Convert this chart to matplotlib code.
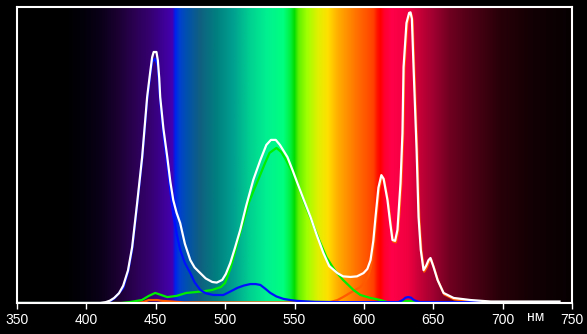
import numpy as np
import matplotlib
matplotlib.use('Agg')
import matplotlib.pyplot as plt
from matplotlib.colors import to_rgb

# ---- data (wavelength nm, relative intensity %) ----
wl_white = [350, 405, 410, 414, 417, 420, 423.5, 426.5, 430, 433, 436.6, 440.2, 443.8, 446, 447.4,
            448.5, 450.5, 451.5, 452.5, 453.2, 455.5, 458.3, 460.5, 462.6, 465, 467.6, 471,
            474.9, 478, 482.1, 486, 490.7, 494, 497.9, 500.5, 503.7, 507, 510.9, 515, 520.3,
            525.4, 529.7, 533, 536.5, 539.5, 544.9, 548.5, 552.1, 557, 561.5, 566, 570.8, 575,
            580.9, 585, 590.3, 595, 599.7, 602.5, 604.8, 606.8, 608.4, 610.5, 612.6, 614.2,
            617.0, 619, 620.6, 622.5, 624.2, 626.4, 627.8, 628.6, 630.7, 632.6, 633.6, 634.6,
            635.8, 638.0, 639.4, 641, 643.0, 644.8, 646.6, 648.0, 650.2, 653.1, 657.4, 664.7,
            676.9, 691.4, 741]
val_white = [0, 0, 0, 0.3, 0.8, 1.7, 3.3, 5.8, 11.0, 18.9, 33.8, 49.3, 69.6, 78.0, 83.0,
             84.8, 84.8, 82.0, 76.0, 69.6, 59.0, 49.3, 41.0, 34.8, 30.5, 27.0, 20.0,
             14.5, 12.0, 10.1, 8.3, 7.1, 6.9, 7.8, 9.8, 13.5, 18.5, 24.7, 32.5, 41.6,
             48.3, 53.4, 55.1, 55.1, 53.4, 49.3, 45.0, 40.5, 34.5, 29.1, 23.0, 16.9, 12.5,
             10.1, 9.0, 8.8, 9.0, 10.1, 11.5, 14.5, 21.0, 29.1, 39.0, 43.2, 42.0,
             34.8, 27.0, 21.3, 21.0, 24.7, 40.5, 57.4, 79.7, 94.6, 98.0, 98.2, 96.0,
             79.7, 51.7, 29.1, 18.0, 11.1, 12.5, 14.5, 15.2, 12.2, 7.8, 3.4, 1.7,
             1.0, 0.5, 0.5]

wl_blue = [350, 415, 420, 426.5, 430, 433, 436.6, 440.2, 443.8, 446, 447.4, 449.6, 451.5, 453.2,
           455.5, 458.3, 460.5, 462.6, 465, 467.6, 471, 474.9, 478, 482.1, 486, 491.5, 498.7,
           503, 508.8, 513.5, 518.2, 522, 525.4, 529, 532.6, 537, 542, 547, 552, 565, 580,
           625, 628, 630, 632, 634, 636, 640, 700]
val_blue = [0, 0, 1.5, 5.0, 10.5, 18.0, 33.0, 48.5, 68.5, 77.0, 81.5, 82.5, 80.0, 68.5,
            57.0, 47.0, 38.0, 30.0, 23.5, 17.9, 13.5, 10.1, 7.0, 4.4, 3.3, 2.7, 2.7,
            3.7, 5.1, 5.9, 6.4, 6.4, 6.1, 4.8, 3.4, 2.2, 1.4, 1.0, 0.7, 0.4, 0.3,
            0.3, 1.0, 1.8, 2.0, 1.8, 1.0, 0.3, 0.3]

wl_green = [350, 425, 431, 440, 445, 449.6, 454, 458.3, 465, 472, 479, 485, 490.7, 497, 500,
            504, 507, 510, 513.5, 517, 521, 524.7, 528.5, 532, 537, 540.5, 544, 548, 552.1,
            557, 563, 568, 573, 577, 580, 585, 592.5, 597.5, 604.8, 612, 617, 625, 628, 632,
            636, 640, 700]
val_green = [0, 0, 0.3, 1.0, 2.4, 3.4, 2.7, 2.0, 2.4, 3.4, 3.7, 4.0, 4.4, 5.4, 6.8,
             12.0, 17.0, 22.3, 28.0, 33.8, 38.5, 42.6, 47.0, 50.7, 52.4, 51.0, 48.3, 44.5, 40.5,
             34.0, 27.0, 21.0, 15.5, 12.5, 10.5, 7.8, 4.4, 2.7, 1.7, 1.0, 0.3, 0.3, 0.5, 0.7,
             0.5, 0.3, 0.3]

wl_red = [350, 435, 441, 445, 451, 455, 462, 470, 575, 581, 585, 590, 594, 597.5, 600.5, 603,
          605, 607.3, 608.9, 611.0, 613.1, 614.7, 617.5, 619.5, 621.1, 623, 624.7, 626.9, 628.3,
          629.1, 631.2, 633.1, 634.1, 635.1, 636.3, 638.5, 639.9, 641.5, 643.5, 645.3, 647.1,
          648.5, 650.7, 653.6, 657.9, 665.2, 677.4, 691.9, 700]
val_red = [0, 0, 0.3, 1.0, 1.0, 0.7, 0.5, 0.2, 0.2, 1.0, 2.0, 3.4, 4.5, 5.4, 7.0, 8.8,
           12.0, 20.5, 28.5, 38.5, 42.7, 41.5, 34.3, 26.5, 20.8, 20.5, 24.2, 40.0, 56.9,
           79.2, 94.1, 97.5, 97.7, 95.5, 79.2, 51.2, 28.6, 17.5, 10.6, 12.0, 14.0,
           14.7, 11.7, 7.3, 2.9, 1.2, 0.5, 0.3, 0.3]

x_ticks = [350, 400, 450, 500, 550, 600, 650, 700, 750]
tick_labels = ['350', '400', '450', '500', '550', '600', '650', '700', '750']
unit_label = 'нм'

# background spectrum colour stops (wavelength, colour)
spec_stops = [(350, '#000000'), (385, '#000000'), (398, '#03000a'), (410, '#0a0018'),
              (422, '#1a0030'), (434, '#2a0050'), (446, '#350070'), (458, '#4000a0'),
              (462, '#4400b0'), (464, '#0020f0'), (467, '#0040d0'), (472, '#0050b0'),
              (482, '#106080'), (494, '#008080'), (506, '#00a090'), (518, '#00d090'),
              (530, '#00f090'), (542, '#00ff80'), (547, '#00f040'), (550, '#00dd00'),
              (553, '#60f000'), (559, '#a0ff00'), (567, '#e0f000'), (574, '#ffe000'),
              (581, '#ffb000'), (595, '#ff7000'), (607, '#ff4000'), (610, '#ff1000'),
              (612, '#ff0000'), (615, '#ff0030'), (620, '#ff0048'), (632, '#f00040'),
              (640, '#c80038'), (650, '#a00030'), (662, '#700020'), (674, '#550018'),
              (698, '#280008'), (722, '#120004'), (746, '#080002'), (750, '#060000')]

fig = plt.figure(figsize=(5.87, 3.34), dpi=100, facecolor='black')
ax = fig.add_axes([17/587, 1 - 303/334, (572 - 17)/587, (303 - 7)/334])
ax.set_facecolor('black')

wls = np.linspace(350, 750, 1601)
sw = [s[0] for s in spec_stops]
cols = np.array([to_rgb(s[1]) for s in spec_stops])
rgb = np.stack([np.interp(wls, sw, cols[:, i]) for i in range(3)], axis=-1)
ax.imshow(rgb[None, :, :], extent=[350, 750, 0, 100], aspect='auto',
          interpolation='bilinear', zorder=0)

lw = 1.6
ax.plot(wl_red, val_red, color='#ff5a00', lw=lw, zorder=2)
ax.plot(wl_green, val_green, color='#00ee00', lw=lw, zorder=3)
ax.plot(wl_blue, val_blue, color='#0010ff', lw=lw, zorder=4)
ax.plot(wl_white, val_white, color='white', lw=lw, zorder=5)

ax.set_xlim(350, 750)
ax.set_ylim(0, 100)
ax.set_xticks(x_ticks)
ax.set_xticklabels(tick_labels, color='white', fontsize=10, family='Liberation Sans')
ax.tick_params(axis='x', colors='white', length=4, width=1, pad=3, direction='out')
ax.set_yticks([])
for s in ax.spines.values():
    s.set_color('white')
    s.set_linewidth(1.5)
    s.set_zorder(6)

fig.text(536/587, 1 - 317/334, unit_label, color='white', fontsize=10,
         ha='center', va='center', family='Liberation Sans')

fig.savefig('out.png', dpi=100, facecolor='black')
